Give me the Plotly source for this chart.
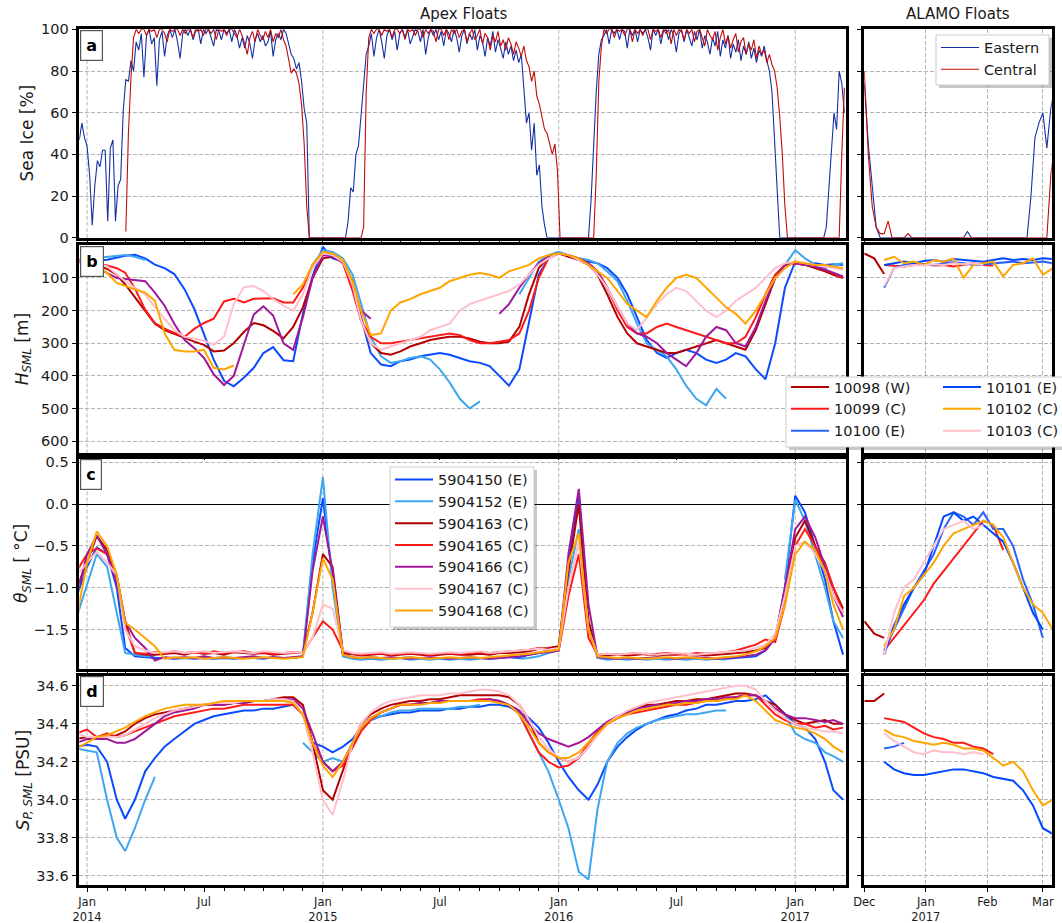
import plotly.graph_objects as go
import pandas as pd

W, H = 1062, 923
N = None

# ---------------------------------------------------------------- time axes
APEX_DATES = (["2013-12-16"]
              + [f"{y}-{m:02d}-{d:02d}" for y in (2014, 2015, 2016)
                 for m in range(1, 13) for d in (1, 16)]
              + ["2017-01-01", "2017-01-16", "2017-02-01", "2017-02-16",
                 "2017-03-01", "2017-03-16"])
ALAMO_DATES = pd.date_range("2016-12-01", periods=20, freq="5D")
ICE_DATES = pd.date_range("2013-12-20", periods=297, freq="4D")
ICE_ALAMO_DATES = pd.date_range("2016-12-01", periods=49, freq="2D")

# ---------------------------------------------------------------- sea ice [%]
ICE_EAST = [
    47, 55, 48, 44, 30, 6, 25, 37, 34, 42, 42, 8, 43, 47, 8, 25, 28, 61, 76, 75,
    85, 80, 94, 90, 98, 77, 97, 100, 93, 96, 73, 95, 99, 87, 97, 100, 96, 100, 94, 86,
    98, 100, 97, 100, 95, 99, 100, 93, 100, 98, 100, 96, 92, 100, 99, 95, 100, 98, 100, 94,
    100, 97, 91, 96, 91, 97, 93, 86, 95, 98, 94, 97, 92, 94, 99, 87, 95, 98, 95, 100,
    98, 93, 88, 86, 81, 84, 75, 62, 55, 0, 0, 0, 0, 0, 0, 0, 0, 0, 0, 0,
    0, 0, 0, 0, 8, 24, 22, 40, 44, 60, 76, 88, 92, 98, 87, 96, 100, 94, 86, 97,
    100, 95, 99, 90, 98, 100, 96, 100, 93, 97, 100, 99, 94, 100, 88, 96, 100, 97, 100, 95,
    99, 92, 100, 98, 94, 100, 96, 89, 97, 100, 93, 98, 95, 100, 90, 97, 94, 87, 96, 92,
    99, 89, 95, 91, 86, 94, 88, 92, 85, 90, 84, 88, 70, 55, 60, 42, 55, 30, 35, 15,
    6, 0, 0, 0, 0, 0, 0, 0, 0, 0, 0, 0, 0, 0, 0, 0, 0, 0, 18, 45,
    70, 88, 95, 97, 100, 93, 100, 98, 100, 95, 100, 99, 91, 100, 97, 100, 94, 100, 98, 100,
    96, 90, 100, 97, 100, 93, 99, 100, 95, 100, 97, 89, 98, 100, 94, 100, 96, 92, 99, 95,
    100, 91, 97, 94, 88, 96, 92, 99, 87, 95, 91, 97, 86, 93, 89, 95, 85, 92, 88, 94,
    86, 91, 84, 90, 87, 92, 85, 80, 70, 45, 20, 0, 0, 0, 0, 0, 0, 0, 0, 0,
    0, 0, 0, 0, 0, 0, 0, 0, 0, 5, 25, 42, 60, 52, 80, 74, 60,
]
ICE_CENTRAL = [
    N, N, N, N, N, N, N, N, N, N, N, N, N, N, N, N, N, N, 3, 50,
    77, 96, 100, 98, 100, 100, 97, 100, 99, 100, 96, 100, 100, 98, 94, 100, 99, 100, 100, 97,
    100, 98, 100, 100, 96, 100, 99, 100, 97, 100, 100, 98, 100, 95, 100, 99, 100, 97, 100, 100,
    98, 96, 100, 97, 93, 88, 96, 99, 94, 100, 97, 95, 99, 96, 100, 94, 98, 96, 100, 95,
    92, 86, 79, 81, 79, 74, 64, 45, 15, 0, 0, 0, 0, 0, 0, 0, 0, 0, 0, 0,
    0, 0, 0, 0, 0, 0, 0, 0, 0, 0, 5, 70, 96, 100, 98, 100, 100, 97, 100, 99,
    100, 96, 100, 100, 98, 100, 95, 100, 99, 100, 97, 100, 100, 96, 100, 98, 100, 99, 94, 100,
    100, 97, 100, 95, 100, 98, 100, 96, 99, 100, 94, 98, 100, 95, 97, 100, 93, 98, 96, 90,
    97, 94, 99, 92, 95, 90, 96, 93, 88, 94, 91, 87, 92, 85, 82, 75, 80, 68, 64, 58,
    52, 50, 45, 40, 45, 32, 0, 0, 0, 0, 0, 0, 0, 0, 0, 0, 0, 0, 0, 0,
    30, 75, 92, 100, 98, 100, 100, 96, 100, 99, 100, 97, 100, 100, 94, 100, 98, 100, 97, 100,
    100, 95, 100, 99, 100, 96, 100, 98, 100, 93, 100, 97, 100, 99, 95, 100, 98, 100, 94, 99,
    100, 96, 92, 100, 97, 95, 99, 90, 96, 100, 93, 97, 91, 95, 98, 89, 94, 96, 88, 93,
    90, 95, 86, 92, 88, 90, 84, 88, 83, 80, 72, 58, 40, 15, 0, 0, 0, 0, 0, 0,
    0, 0, 0, 0, 0, 0, 0, 0, 0, 0, 0, 0, 0, 0, 0, 40, 72,
]
ICE_ALAMO_EAST = [
    74, 45, 25, 5, 0, 0, 0, 0, 0, 0, 0, 0, 0, 0, 0, 0, 0, 0, 0, 0,
    0, 0, 0, 0, 0, 0, 3, 0, 0, 0, 0, 0, 0, 0, 0, 0, 0, 0, 0, 0,
    0, 0, 20, 48, 55, 60, 43, 62, 72,
]
ICE_ALAMO_CENTRAL = [
    80, 40, 15, 5, 2, 2, 8, 0, 0, 0, 0, 2, 0, 0, 0, 0, 0, 0, 0, 0,
    0, 0, 0, 0, 0, 0, 0, 0, 0, 0, 0, 0, 0, 0, 0, 0, 0, 0, 0, 0,
    0, 0, 0, 0, 0, 0, 0, 30, 45,
]

# ---------------------------------------------------------------- Apex floats
APEX_FLOATS = ["5904150", "5904152", "5904163", "5904165", "5904166", "5904167", "5904168"]
APEX_REGIONS = ["E", "E", "C", "C", "C", "C", "C"]

# mixed-layer depth [m]
H_5904150 = [
    45, 46, 48, 44, 38, 32, 29, 40, 59, 70, 88, 135, 195, 275, 350, 415, 432, 405, 375, 330, 312, 352, 355, 210, 95,
    5, 40, 50, 110, 220, 330, 365, 370, 355, 350, 340, 335, 330, 335, 345, 355, 360, 370, 400, 430, 380, 230, 90, 40,
    25, 30, 45, 50, 55, 70, 100, 150, 220, 290, 330, 345, 330, 320, 330, 350, 360, 350, 330, 340, 380, 410, 300, 130,
    50, 60, 55, 60, 58, 60,
]
H_5904152 = [
    45, 42, 40, 35, 32, 30, 35, 45, N, N, N, N, N, N, N, N, N, N, N, N, N, N, N, N, 60,
    15, 20, 40, 90, 180, 280, 340, 360, 355, 345, 340, 350, 380, 420, 470, 500, 478, N, N, N, 150, 100, 50, 30,
    20, 30, 40, 45, 55, 80, 110, 170, 240, 300, 320, 340, 380, 430, 470, 490, 440, 470, N, N, N, N, N, 60,
    15, 40, 60, 70, 60, 55,
]
H_5904163 = [
    50, 55, 62, 72, 90, 120, 160, 200, 240, 260, 272, 285, 295, 305, 325, 322, 300, 265, 238, 245, 262, 285, 250, 190, 100,
    40, 35, 50, 110, 230, 300, 330, 335, 325, 310, 300, 290, 285, 280, 280, 285, 295, 300, 300, 295, 250, 150, 70, 35,
    25, 35, 45, 60, 90, 150, 220, 270, 300, 310, 320, 330, 330, 320, 310, 300, 290, 300, 310, 320, 260, 180, 100, 60,
    55, 60, 70, 80, 90, 100,
]
H_5904165 = [
    45, 50, 55, 62, 70, 84, 132, 197, 238, 255, 268, 280, 256, 238, 225, 172, 164, 175, 164, 164, 162, 175, 175, 130, 60,
    25, 30, 55, 140, 230, 280, 300, 300, 295, 290, 285, 280, 275, 270, 275, 290, 300, 300, 295, 290, 270, 200, 100, 40,
    25, 30, 40, 55, 80, 130, 200, 250, 270, 270, 250, 240, 250, 260, 270, 280, 290, 300, 300, 280, 220, 150, 90, 60,
    55, 60, 65, 75, 85, 100,
]
H_5904166 = [
    50, 55, 65, 85, 100, 103, 105, 110, 145, 185, 240, 290, 315, 345, 395, 428, 400, 300, 212, 187, 215, 300, 320, 220, 100,
    30, 35, 50, 120, 200, 225, N, N, N, N, N, N, N, N, N, N, N, N, 210, 180, 130, 90, 55, 35,
    25, 30, 40, 55, 80, 130, 190, 240, 270, 280, 300, 330, 350, 370, 330, 280, 250, 260, 300, 310, 250, 170, 100, 60,
    55, 60, 65, 75, 85, 95,
]
H_5904167 = [
    50, 52, 55, 65, 90, 110, 130, 150, 190, 225, 260, 280, 287, 292, 305, 280, 180, 128, 125, 140, 165, 185, 200, 150, 70,
    25, 30, 50, 120, 230, 300, 320, 310, 300, 290, 280, 260, 250, 240, 200, 180, 170, 160, 150, 140, 120, 90, 60, 40,
    25, 30, 45, 60, 90, 130, 190, 240, 260, 220, 180, 150, 130, 140, 170, 200, 220, 200, 170, 150, 130, 100, 70, 55,
    50, 55, 60, 65, 70, 75,
]
H_5904168 = [
    45, 50, 60, 85, 115, 125, 135, 145, 170, 270, 320, 325, 325, 320, 375, 380, 368, N, N, N, N, N, 150, 120, 60,
    20, 25, 45, 110, 200, 275, 270, 200, 175, 165, 150, 140, 130, 110, 100, 90, 85, 90, 100, 80, 70, 60, 40, 30,
    25, 30, 40, 60, 80, 100, 140, 180, 200, 220, 170, 130, 100, 90, 100, 130, 160, 190, 210, 240, 200, 150, 100, 70,
    50, 55, 60, 60, 65, 70,
]

# mixed-layer potential temperature [degC]
T_5904150 = [
    -1.10, -0.75, -0.52, -0.60, -1.00, -1.72, -1.82, -1.83, -1.84, -1.84, -1.85, -1.84, -1.85, -1.84, -1.85, -1.84, -1.85, -1.84, -1.84, -1.85, -1.83, -1.84, -1.84, -1.82, -0.70,
    0.07, -0.90, -1.78, -1.84, -1.85, -1.85, -1.84, -1.85, -1.84, -1.83, -1.85, -1.84, -1.85, -1.84, -1.85, -1.85, -1.84, -1.85, -1.84, -1.83, -1.84, -1.80, -1.78, -1.75,
    -1.72, -0.70, 0.13, -1.50, -1.83, -1.85, -1.85, -1.84, -1.85, -1.84, -1.85, -1.84, -1.85, -1.84, -1.85, -1.84, -1.85, -1.85, -1.84, -1.83, -1.82, -1.75, -1.60, -1.00,
    0.10, -0.10, -0.50, -0.90, -1.40, -1.80,
]
T_5904152 = [
    -1.35, -0.95, -0.60, -0.75, -1.30, -1.78, -1.80, -1.82, -1.82, N, N, N, N, N, N, N, N, N, N, N, N, N, N, -1.80, -0.60,
    0.32, -1.00, -1.82, -1.85, -1.86, -1.85, -1.86, -1.85, -1.84, -1.86, -1.85, -1.86, -1.85, -1.86, -1.85, -1.86, -1.85, N, N, N, -1.85, -1.84, -1.82, -1.78,
    -1.75, -0.90, -0.30, -1.40, -1.84, -1.86, -1.85, -1.86, -1.85, -1.86, -1.85, -1.86, -1.85, -1.86, -1.85, -1.86, -1.85, -1.86, N, N, N, N, N, -0.90,
    0.05, -0.20, -0.60, -1.00, -1.40, -1.60,
]
T_5904163 = [
    -1.00, -0.70, -0.38, -0.55, -0.85, -1.40, -1.78, -1.80, -1.80, -1.79, -1.78, -1.80, -1.77, -1.79, -1.78, -1.80, -1.77, -1.78, -1.79, -1.78, -1.80, -1.79, -1.78, -1.78, -1.30,
    -0.60, -0.75, -1.78, -1.80, -1.81, -1.80, -1.79, -1.81, -1.80, -1.79, -1.80, -1.81, -1.80, -1.79, -1.80, -1.80, -1.79, -1.80, -1.78, -1.78, -1.77, -1.76, -1.73, -1.72,
    -1.70, -0.80, 0.00, -1.40, -1.80, -1.81, -1.80, -1.81, -1.80, -1.79, -1.81, -1.80, -1.80, -1.79, -1.80, -1.81, -1.80, -1.79, -1.78, -1.77, -1.75, -1.72, -1.60, -1.10,
    -0.40, -0.20, -0.50, -0.80, -1.00, -1.25,
]
T_5904165 = [
    -0.80, -0.60, -0.53, -0.60, -0.90, -1.45, -1.78, -1.79, -1.77, -1.78, -1.76, -1.78, -1.77, -1.79, -1.76, -1.78, -1.77, -1.76, -1.78, -1.77, -1.79, -1.78, -1.77, -1.78, -1.60,
    -1.40, -1.50, -1.75, -1.79, -1.80, -1.79, -1.78, -1.80, -1.79, -1.78, -1.79, -1.80, -1.79, -1.78, -1.79, -1.78, -1.77, -1.78, -1.77, -1.76, -1.75, -1.74, -1.72, -1.75,
    -1.75, -1.10, -0.60, -1.60, -1.80, -1.79, -1.80, -1.79, -1.78, -1.80, -1.79, -1.78, -1.79, -1.80, -1.78, -1.79, -1.78, -1.77, -1.75, -1.72, -1.68, -1.62, -1.65, -1.20,
    -0.50, -0.30, -0.50, -0.70, -1.00, -1.30,
]
T_5904166 = [
    -1.10, -0.60, -0.38, -0.60, -0.95, -1.40, -1.60, -1.72, -1.87, -1.83, -1.84, -1.83, -1.84, -1.82, -1.84, -1.83, -1.84, -1.83, -1.82, -1.84, -1.83, -1.84, -1.83, -1.82, -0.80,
    -0.15, -0.80, -1.80, -1.83, -1.84, -1.83, -1.84, -1.83, -1.84, -1.85, -1.84, -1.83, -1.84, -1.85, -1.84, -1.83, -1.84, -1.85, -1.84, -1.83, -1.82, -1.80, -1.78, -1.77,
    -1.75, -0.60, 0.18, -1.20, -1.83, -1.84, -1.85, -1.84, -1.85, -1.84, -1.83, -1.84, -1.85, -1.84, -1.83, -1.84, -1.85, -1.84, -1.83, -1.82, -1.80, -1.75, -1.60, -1.00,
    -0.30, -0.15, -0.40, -0.75, -1.10, -1.35,
]
T_5904167 = [
    -0.85, -0.70, -0.57, -0.70, -0.85, -1.50, -1.70, -1.75, -1.78, -1.77, -1.76, -1.78, -1.77, -1.76, -1.78, -1.77, -1.76, -1.77, -1.78, -1.76, -1.77, -1.78, -1.77, -1.78, -1.60,
    -1.20, -1.25, -1.75, -1.78, -1.79, -1.78, -1.77, -1.79, -1.78, -1.77, -1.78, -1.79, -1.78, -1.77, -1.78, -1.77, -1.76, -1.78, -1.77, -1.76, -1.75, -1.74, -1.73, -1.74,
    -1.72, -1.00, -0.45, -1.50, -1.80, -1.79, -1.80, -1.79, -1.78, -1.79, -1.80, -1.79, -1.78, -1.79, -1.80, -1.79, -1.78, -1.77, -1.76, -1.75, -1.72, -1.68, -1.55, -1.10,
    -0.50, -0.45, -0.60, -0.80, -1.10, -1.30,
]
T_5904168 = [
    -1.35, -0.70, -0.33, -0.50, -0.85, -1.42, -1.50, -1.60, -1.70, -1.85, -1.83, -1.84, -1.83, -1.85, -1.84, -1.83, -1.84, -1.85, -1.84, -1.83, -1.84, -1.85, -1.84, -1.83, -1.30,
    -0.65, -0.90, -1.80, -1.83, -1.84, -1.83, -1.84, -1.85, -1.84, -1.83, -1.84, -1.85, -1.84, -1.83, -1.84, -1.83, -1.84, -1.83, -1.82, -1.81, -1.80, -1.79, -1.77, -1.76,
    -1.74, -0.70, -0.35, -1.50, -1.82, -1.83, -1.84, -1.83, -1.84, -1.85, -1.84, -1.83, -1.84, -1.83, -1.84, -1.85, -1.84, -1.83, -1.82, -1.80, -1.76, -1.70, -1.60, -1.20,
    -0.60, -0.45, -0.55, -0.80, -1.20, -1.50,
]

# mixed-layer practical salinity [PSU]
S_5904150 = [
    34.28, 34.29, 34.28, 34.20, 34.00, 33.90, 34.00, 34.15, 34.22, 34.28, 34.32, 34.36, 34.40, 34.42, 34.44, 34.45, 34.46, 34.47, 34.47, 34.48, 34.48, 34.49, 34.50, 34.45, 34.30,
    34.28, 34.25, 34.28, 34.32, 34.38, 34.42, 34.44, 34.45, 34.46, 34.46, 34.47, 34.47, 34.47, 34.48, 34.48, 34.49, 34.49, 34.50, 34.50, 34.49, 34.46, 34.43, 34.38, 34.30,
    34.20, 34.12, 34.05, 34.00, 34.08, 34.20, 34.28, 34.33, 34.37, 34.40, 34.42, 34.44, 34.45, 34.47, 34.48, 34.50, 34.50, 34.51, 34.52, 34.52, 34.53, 34.55, 34.50, 34.45,
    34.40, 34.38, 34.32, 34.20, 34.05, 34.00,
]
S_5904152 = [
    34.27, 34.26, 34.25, 34.00, 33.80, 33.73, 33.85, 34.00, 34.12, N, N, N, N, N, N, N, N, N, N, N, N, N, N, 34.30, 34.25,
    34.20, 34.22, 34.20, 34.30, 34.38, 34.42, 34.44, 34.46, 34.47, 34.47, 34.48, 34.48, 34.48, 34.48, 34.49, 34.49, 34.50, N, N, N, 34.45, 34.35, 34.25, 34.15,
    34.00, 33.85, 33.62, 33.58, 33.95, 34.20, 34.30, 34.35, 34.38, 34.40, 34.42, 34.43, 34.44, 34.45, 34.45, 34.46, 34.47, 34.47, N, N, N, N, N, 34.45,
    34.35, 34.32, 34.30, 34.25, 34.23, 34.20,
]
S_5904163 = [
    34.32, 34.33, 34.33, 34.33, 34.34, 34.36, 34.40, 34.43, 34.45, 34.46, 34.47, 34.48, 34.49, 34.50, 34.50, 34.50, 34.51, 34.51, 34.52, 34.52, 34.53, 34.54, 34.54, 34.50, 34.30,
    34.05, 34.00, 34.15, 34.30, 34.40, 34.45, 34.48, 34.50, 34.51, 34.52, 34.52, 34.53, 34.53, 34.54, 34.55, 34.55, 34.55, 34.55, 34.55, 34.54, 34.50, 34.42, 34.30, 34.25,
    34.22, 34.20, 34.22, 34.28, 34.35, 34.40, 34.43, 34.46, 34.48, 34.50, 34.50, 34.51, 34.52, 34.52, 34.53, 34.53, 34.54, 34.55, 34.56, 34.56, 34.55, 34.52, 34.50, 34.45,
    34.42, 34.40, 34.41, 34.42, 34.40, 34.40,
]
S_5904165 = [
    34.35, 34.37, 34.33, 34.35, 34.33, 34.34, 34.36, 34.38, 34.40, 34.42, 34.44, 34.45, 34.46, 34.47, 34.48, 34.48, 34.49, 34.50, 34.50, 34.50, 34.50, 34.50, 34.50, 34.45, 34.30,
    34.20, 34.15, 34.18, 34.28, 34.36, 34.42, 34.46, 34.48, 34.50, 34.50, 34.51, 34.51, 34.52, 34.52, 34.52, 34.52, 34.53, 34.53, 34.52, 34.50, 34.45, 34.35, 34.25, 34.20,
    34.17, 34.18, 34.22, 34.30, 34.36, 34.40, 34.43, 34.45, 34.46, 34.47, 34.48, 34.49, 34.50, 34.50, 34.51, 34.52, 34.52, 34.53, 34.54, 34.55, 34.55, 34.50, 34.45, 34.42,
    34.40, 34.40, 34.38, 34.39, 34.37, 34.38,
]
S_5904166 = [
    34.30, 34.32, 34.32, 34.32, 34.30, 34.30, 34.32, 34.36, 34.40, 34.44, 34.46, 34.47, 34.48, 34.50, 34.50, 34.50, 34.51, 34.51, 34.52, 34.52, 34.52, 34.53, 34.53, 34.48, 34.35,
    34.20, 34.15, 34.20, 34.30, 34.38, 34.43, 34.46, 34.48, 34.50, 34.50, 34.51, 34.51, 34.52, 34.52, 34.52, 34.52, 34.52, 34.53, 34.52, 34.50, 34.47, 34.40, 34.35, 34.32,
    34.30, 34.28, 34.30, 34.33, 34.37, 34.41, 34.44, 34.46, 34.48, 34.49, 34.50, 34.50, 34.51, 34.52, 34.52, 34.53, 34.53, 34.54, 34.54, 34.55, 34.55, 34.52, 34.48, 34.45,
    34.43, 34.43, 34.42, 34.41, 34.42, 34.40,
]
S_5904167 = [
    34.35, 34.33, 34.33, 34.33, 34.33, 34.34, 34.37, 34.40, 34.43, 34.45, 34.47, 34.48, 34.49, 34.50, 34.51, 34.51, 34.51, 34.52, 34.52, 34.52, 34.53, 34.53, 34.52, 34.45, 34.25,
    34.00, 33.92, 34.10, 34.30, 34.40, 34.46, 34.50, 34.52, 34.53, 34.54, 34.55, 34.55, 34.55, 34.56, 34.56, 34.57, 34.58, 34.58, 34.57, 34.55, 34.50, 34.42, 34.33, 34.27,
    34.22, 34.20, 34.22, 34.28, 34.34, 34.40, 34.44, 34.47, 34.49, 34.51, 34.52, 34.53, 34.54, 34.55, 34.56, 34.57, 34.58, 34.59, 34.60, 34.60, 34.58, 34.52, 34.47, 34.43,
    34.40, 34.38, 34.37, 34.36, 34.36, 34.35,
]
S_5904168 = [
    34.27, 34.30, 34.33, 34.34, 34.36, 34.38, 34.41, 34.44, 34.46, 34.48, 34.49, 34.50, 34.50, 34.50, 34.51, 34.52, 34.52, 34.52, 34.52, 34.52, 34.52, 34.52, 34.51, 34.45, 34.30,
    34.18, 34.12, 34.20, 34.30, 34.38, 34.43, 34.46, 34.48, 34.50, 34.50, 34.50, 34.51, 34.51, 34.52, 34.52, 34.52, 34.52, 34.52, 34.51, 34.50, 34.45, 34.38, 34.30, 34.25,
    34.22, 34.22, 34.25, 34.30, 34.35, 34.40, 34.43, 34.45, 34.47, 34.48, 34.49, 34.50, 34.50, 34.51, 34.51, 34.52, 34.52, 34.53, 34.53, 34.55, 34.52, 34.47, 34.42, 34.40,
    34.38, 34.37, 34.35, 34.32, 34.28, 34.25,
]

# ---------------------------------------------------------------- ALAMO floats
ALAMO_FLOATS = ["10098", "10099", "10100", "10101", "10102", "10103"]
ALAMO_REGIONS = ["W", "C", "E", "E", "C", "C"]

H_10098 = [25, 40, 88, N, N, N, N, N, N, N, N, N, N, N, N, N, N, N, N, N]
H_10099 = [N, N, 60, 62, 65, 60, 58, 62, 60, 65, 60, 55, 60, 62, N, N, N, N, N, N]
H_10100 = [N, N, 130, 70, 60, 55, 58, 60, 55, 52, 55, 60, 58, 55, 52, 50, 55, 52, 50, 55]
H_10101 = [N, N, 60, 55, 50, 55, 48, 45, 50, 42, 45, 48, 50, 45, 40, 45, 42, 45, 40, 42]
H_10102 = [N, N, 45, 35, 55, 50, 60, 45, 50, 40, 100, 60, 55, 50, 95, 60, 55, 40, 90, 70]
H_10103 = [N, N, 125, 70, 65, 60, 62, 58, 60, 55, 58, 55, 60, N, N, N, N, N, N, N]

T_10098 = [-1.40, -1.55, -1.60, N, N, N, N, N, N, N, N, N, N, N, N, N, N, N, N, N]
T_10099 = [N, N, -1.75, -1.60, -1.45, -1.30, -1.15, -0.95, -0.80, -0.65, -0.50, -0.35, -0.20, -0.25, -0.55, N, N, N, N, N]
T_10100 = [N, N, -1.75, -1.50, -1.25, -1.00, -0.80, -0.60, -0.30, -0.10, -0.15, -0.25, -0.10, -0.30, -0.30, -0.50, -0.90, -1.20, -1.60, N]
T_10101 = [N, N, -1.80, -1.45, -1.20, -1.00, -0.85, -0.50, -0.15, -0.10, -0.20, -0.15, -0.25, -0.35, -0.45, -0.70, -1.00, -1.30, -1.50, N]
T_10102 = [N, N, -1.70, -1.50, -1.10, -1.00, -0.85, -0.70, -0.50, -0.35, -0.30, -0.25, -0.20, -0.25, -0.40, -0.70, -1.00, -1.20, -1.30, -1.50]
T_10103 = [N, N, -1.80, -1.30, -1.00, -0.90, -0.70, -0.50, -0.30, -0.25, -0.20, -0.30, -0.25, N, N, N, N, N, N, N]

S_10098 = [34.52, 34.52, 34.56, N, N, N, N, N, N, N, N, N, N, N, N, N, N, N, N, N]
S_10099 = [N, N, 34.43, 34.42, 34.41, 34.38, 34.35, 34.33, 34.32, 34.30, 34.30, 34.28, 34.27, 34.24, N, N, N, N, N, N]
S_10100 = [N, N, 34.27, 34.28, 34.30, N, N, N, N, N, N, N, N, N, N, N, N, N, N, N]
S_10101 = [N, N, 34.20, 34.16, 34.14, 34.13, 34.13, 34.14, 34.15, 34.16, 34.16, 34.15, 34.14, 34.12, 34.11, 34.10, 34.05, 33.97, 33.85, 33.82]
S_10102 = [N, N, 34.37, 34.34, 34.33, 34.31, 34.30, 34.29, 34.30, 34.29, 34.27, 34.27, 34.26, 34.22, 34.18, 34.20, 34.15, 34.05, 33.97, 34.00]
S_10103 = [N, N, 34.35, 34.31, 34.28, 34.25, 34.24, 34.26, 34.25, 34.25, 34.24, 34.25, 34.24, N, N, N, N, N, N, N]

# ---------------------------------------------------------------- styling
FONT = "DejaVu Sans"
C_EAST, C_CENT = "#1530a5", "#c20a0a"
APEX_COLORS = ["#0a4bff", "#3ea6f0", "#b30000", "#ff1a1a", "#a0189a", "#ffc0cb", "#ffa500"]
ALAMO_COLORS = ["#b30000", "#ff1a1a", "#2a62ff", "#0048ff", "#ffa500", "#ffc0cb"]
GRID = "#b4b4b4"

APEX_H = [H_5904150, H_5904152, H_5904163, H_5904165, H_5904166, H_5904167, H_5904168]
APEX_T = [T_5904150, T_5904152, T_5904163, T_5904165, T_5904166, T_5904167, T_5904168]
APEX_S = [S_5904150, S_5904152, S_5904163, S_5904165, S_5904166, S_5904167, S_5904168]
ALAMO_H = [H_10098, H_10099, H_10100, H_10101, H_10102, H_10103]
ALAMO_T = [T_10098, T_10099, T_10100, T_10101, T_10102, T_10103]
ALAMO_S = [S_10098, S_10099, S_10100, S_10101, S_10102, S_10103]

for s in APEX_H + APEX_T + APEX_S:
    assert len(s) == len(APEX_DATES)
for s in ALAMO_H + ALAMO_T + ALAMO_S:
    assert len(s) == len(ALAMO_DATES)
assert len(ICE_EAST) == len(ICE_DATES) == len(ICE_CENTRAL)
assert len(ICE_ALAMO_EAST) == len(ICE_ALAMO_DATES) == len(ICE_ALAMO_CENTRAL)


def px_x(p):
    return p / W


def px_y(p):
    return 1 - p / H


LEFT = [px_x(79.3), px_x(846.3)]
RIGHT = [px_x(864.3), px_x(1051.8)]
ROWS = [(29.3, 237.8), (245.3, 453.3), (458.8, 669.3), (675.8, 885.0)]
YRANGES = [[0, 100], [637, 0], [-1.975, 0.54], [33.551, 34.653]]
YTICKS = [
    ([0, 20, 40, 60, 80, 100], ["0", "20", "40", "60", "80", "100"]),
    ([100, 200, 300, 400, 500, 600], ["100", "200", "300", "400", "500", "600"]),
    ([0.5, 0.0, -0.5, -1.0, -1.5], ["0.5", "0.0", "\u22120.5", "\u22121.0", "\u22121.5"]),
    ([34.6, 34.4, 34.2, 34.0, 33.8, 33.6], ["34.6", "34.4", "34.2", "34.0", "33.8", "33.6"]),
]
LEFT_RANGE = ["2013-12-20", "2017-03-21"]
RIGHT_RANGE = ["2016-12-01", "2017-03-05 12:00"]
LEFT_TICKS = ["2014-01-01", "2014-07-01", "2015-01-01", "2015-07-01",
              "2016-01-01", "2016-07-01", "2017-01-01"]
LEFT_TICKTEXT = ["Jan<br>2014", "Jul", "Jan<br>2015", "Jul", "Jan<br>2016", "Jul", "Jan<br>2017"]
YEAR_STARTS = ["2014-01-01", "2015-01-01", "2016-01-01", "2017-01-01"]
RIGHT_TICKS = ["2016-12-01", "2017-01-01", "2017-02-01", "2017-03-01"]
RIGHT_TICKTEXT = ["Dec", "Jan<br>2017", "Feb", "Mar"]

fig = go.Figure()


def ax_names(row):
    i = 2 * row + 1
    left = ("x" if i == 1 else f"x{i}", "y" if i == 1 else f"y{i}")
    right = (f"x{i + 1}", f"y{i + 1}")
    return left, right


# sea ice
(lx, ly), (rx, ry) = ax_names(0)
fig.add_trace(go.Scatter(x=ICE_DATES, y=ICE_EAST, mode="lines", line=dict(color=C_EAST, width=1.1),
                         name="Eastern", xaxis=lx, yaxis=ly, legend="legend"))
fig.add_trace(go.Scatter(x=ICE_DATES, y=ICE_CENTRAL, mode="lines", line=dict(color=C_CENT, width=1.1),
                         name="Central", xaxis=lx, yaxis=ly, legend="legend"))
fig.add_trace(go.Scatter(x=ICE_ALAMO_DATES, y=ICE_ALAMO_EAST, mode="lines", line=dict(color=C_EAST, width=1.1),
                         showlegend=False, xaxis=rx, yaxis=ry))
fig.add_trace(go.Scatter(x=ICE_ALAMO_DATES, y=ICE_ALAMO_CENTRAL, mode="lines", line=dict(color=C_CENT, width=1.1),
                         showlegend=False, xaxis=rx, yaxis=ry))

# Apex floats: H, theta, S
for row, series in ((1, APEX_H), (2, APEX_T), (3, APEX_S)):
    (lx, ly), _ = ax_names(row)
    for k, fl in enumerate(APEX_FLOATS):
        fig.add_trace(go.Scatter(
            x=APEX_DATES, y=series[k], mode="lines",
            line=dict(color=APEX_COLORS[k], width=2),
            name=f"{fl} ({APEX_REGIONS[k]})", legend="legend4",
            showlegend=(row == 2), xaxis=lx, yaxis=ly))

# ALAMO floats: H, theta, S
for row, series in ((1, ALAMO_H), (2, ALAMO_T), (3, ALAMO_S)):
    _, (rx, ry) = ax_names(row)
    for k, fl in enumerate(ALAMO_FLOATS):
        fig.add_trace(go.Scatter(
            x=ALAMO_DATES, y=series[k], mode="lines",
            line=dict(color=ALAMO_COLORS[k], width=2),
            name=f"{fl} ({ALAMO_REGIONS[k]})",
            legend="legend2" if k < 3 else "legend3",
            showlegend=(row == 1), xaxis=rx, yaxis=ry))

axis_style = dict(showline=True, linecolor="black", linewidth=2.5, mirror=True,
                  ticks="outside", tickcolor="black", tickwidth=1.2, ticklen=5,
                  tickfont=dict(family=FONT, size=14.5, color="#1a1a1a"), zeroline=False,
                  automargin=False)
grid_style = dict(showgrid=True, gridcolor=GRID, gridwidth=1, griddash="4px,2px")
xfont = dict(family=FONT, size=11.5, color="#1a1a1a")

layout = {}
for row in range(4):
    (lx, ly), (rx, ry) = ax_names(row)
    top, bot = ROWS[row]
    ydom = [px_y(bot), px_y(top)]
    last = row == 3
    lxk = "xaxis" if lx == "x" else "xaxis" + lx[1:]
    lyk = "yaxis" if ly == "y" else "yaxis" + ly[1:]
    rxk, ryk = "xaxis" + rx[1:], "yaxis" + ry[1:]
    layout[lxk] = dict(axis_style, domain=LEFT, anchor=ly, type="date", range=LEFT_RANGE,
                       tickmode="array", tickvals=LEFT_TICKS, ticktext=LEFT_TICKTEXT,
                       showticklabels=last, showgrid=False, ticklen=4, tickfont=xfont,
                       minor=dict(tickmode="linear", tick0="2014-01-01", dtick="M1",
                                  ticks="outside", ticklen=3, tickcolor="black", tickwidth=1,
                                  showgrid=False))
    if lx != "x":
        layout[lxk]["matches"] = "x"
    layout[rxk] = dict(axis_style, **grid_style, domain=RIGHT, anchor=ry, type="date",
                       range=RIGHT_RANGE, tickmode="array", tickvals=RIGHT_TICKS,
                       ticktext=RIGHT_TICKTEXT, showticklabels=last, ticklen=4,
                       tickfont=xfont)
    if rx != "x2":
        layout[rxk]["matches"] = "x2"
    tv, tt = YTICKS[row]
    layout[lyk] = dict(axis_style, **grid_style, domain=ydom, anchor=lx, range=YRANGES[row],
                       tickmode="array", tickvals=tv, ticktext=tt)
    layout[ryk] = dict(axis_style, **grid_style, domain=ydom, anchor=rx, range=YRANGES[row],
                       tickmode="array", tickvals=tv, ticktext=tt, showticklabels=False)
    if row == 2:
        for k in (lyk, ryk):
            layout[k].update(zeroline=True, zerolinecolor="black", zerolinewidth=1)

fig.update_layout(**layout)

# year gridlines on the long time axes
shapes = []
for row in range(4):
    (lx, ly), _ = ax_names(row)
    for d in YEAR_STARTS:
        shapes.append(dict(type="line", xref=lx, yref=f"{ly} domain", x0=d, x1=d, y0=0, y1=1,
                           line=dict(color=GRID, width=1, dash="4px,2px"), layer="below"))


def legend_box(x0, y0, x1, y1):
    return [
        dict(type="rect", xref="paper", yref="paper", x0=px_x(x0 + 3), x1=px_x(x1 + 3),
             y0=px_y(y1 + 3), y1=px_y(y0 + 3), fillcolor="rgba(0,0,0,0.22)",
             line=dict(width=0), layer="above"),
        dict(type="rect", xref="paper", yref="paper", x0=px_x(x0), x1=px_x(x1),
             y0=px_y(y1), y1=px_y(y0), fillcolor="white",
             line=dict(color="#cccccc", width=1), layer="above"),
    ]


shapes += legend_box(936, 35, 1049, 85)
shapes += legend_box(786, 377, 1080, 447)
shapes += legend_box(390, 467, 534, 627)
fig.update_layout(shapes=shapes)

legend_common = dict(bgcolor="rgba(0,0,0,0)", borderwidth=0, xanchor="left", yanchor="top",
                     font=dict(family=FONT, size=14.5, color="#1a1a1a"), itemwidth=38,
                     tracegroupgap=0)
fig.update_layout(
    legend=dict(legend_common, x=px_x(936), y=px_y(31.5)),
    legend2=dict(legend_common, x=px_x(786), y=px_y(371)),
    legend3=dict(legend_common, x=px_x(938), y=px_y(371)),
    legend4=dict(legend_common, x=px_x(390), y=px_y(463.5)),
)

ann = []
for row, letter in enumerate("abcd"):
    top, _ = ROWS[row]
    ann.append(dict(text=f"<b>{letter}</b>", xref="paper", yref="paper",
                    x=px_x(79.5), y=px_y(top + 0.5), xanchor="left", yanchor="top",
                    showarrow=False, font=dict(family=FONT, size=16, color="black"),
                    bgcolor="white", bordercolor="#555555", borderwidth=1.2, borderpad=5))

ann.append(dict(text="Apex Floats", xref="paper", yref="paper", x=px_x(463), y=px_y(14),
                xanchor="center", yanchor="middle", showarrow=False,
                font=dict(family=FONT, size=15, color="#1a1a1a")))
ann.append(dict(text="ALAMO Floats", xref="paper", yref="paper", x=px_x(958), y=px_y(14),
                xanchor="center", yanchor="middle", showarrow=False,
                font=dict(family=FONT, size=15, color="#1a1a1a")))

YTITLES = ["Sea Ice [%]",
           "<i>H</i><sub><i>SML</i></sub> [m]",
           "<i>θ</i><sub><i>SML</i></sub> [ °C]",
           "<i>S</i><sub><i>P, SML</i></sub> [PSU]"]
YTITLE_X = [27, 23, 22, 24]
for row, t in enumerate(YTITLES):
    top, bot = ROWS[row]
    ann.append(dict(text=t, xref="paper", yref="paper", x=px_x(YTITLE_X[row]),
                    y=px_y((top + bot) / 2), xanchor="center", yanchor="middle",
                    textangle=-90, showarrow=False,
                    font=dict(family=FONT, size=17, color="#1a1a1a")))
fig.update_layout(annotations=ann)

fig.update_layout(width=W, height=H, autosize=False,
                  margin=dict(l=0, r=0, t=0, b=0, autoexpand=False),
                  paper_bgcolor="white", plot_bgcolor="white",
                  font=dict(family=FONT, color="#1a1a1a"))

fig.write_html("out.html")
